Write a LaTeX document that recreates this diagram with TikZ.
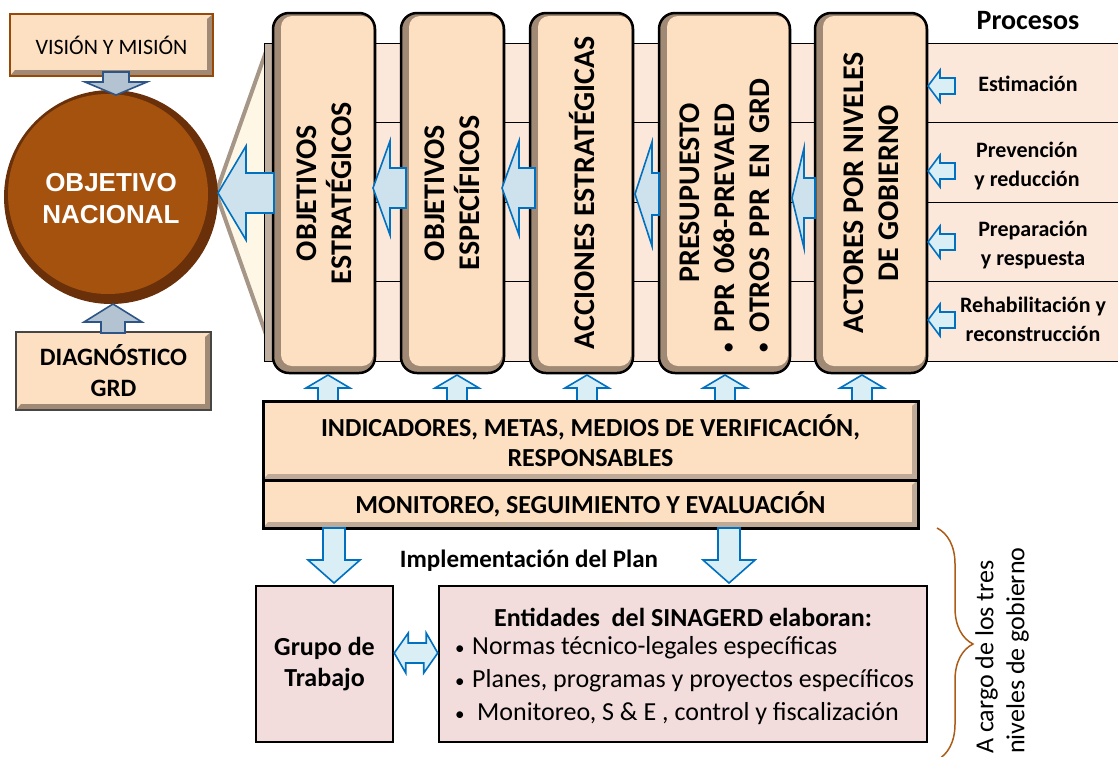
\documentclass[tikz,border=0pt]{standalone}
\usepackage{fontspec}
\setmainfont{Carlito}
\newfontfamily\arialfont{Liberation Sans}
\usetikzlibrary{positioning,calc,decorations.pathreplacing}

\definecolor{peach}{RGB}{253,224,193}
\definecolor{bevel}{RGB}{160,138,118}
\definecolor{bevellt}{RGB}{190,170,150}
\definecolor{bandc}{RGB}{252,232,219}
\definecolor{stripc}{RGB}{190,175,160}
\definecolor{fanc}{RGB}{255,247,230}
\definecolor{fanedge}{RGB}{165,150,135}
\definecolor{brownc}{RGB}{166,82,15}
\definecolor{browndk}{RGB}{105,48,10}
\definecolor{arrfill}{RGB}{218,238,246}
\definecolor{arrdeepc}{RGB}{205,226,236}
\definecolor{arrblue}{RGB}{0,112,192}
\definecolor{arrgrayc}{RGB}{180,195,210}
\definecolor{arrgraydk}{RGB}{45,85,135}
\definecolor{pinkc}{RGB}{242,221,220}
\definecolor{bracec}{RGB}{172,92,22}
\definecolor{visedge}{RGB}{152,72,7}
\definecolor{diagedge}{RGB}{70,70,70}

\newcommand\smallbul{{\fontsize{19}{19}\selectfont\textbullet}}

\tikzset{
  bevelbox/.style={fill=peach, inner sep=0pt, path picture={
      \fill[#1] (path picture bounding box.south west) -- (path picture bounding box.south east)
        -- (path picture bounding box.north east) -- ([xshift=-6pt,yshift=-5pt]path picture bounding box.north east)
        -- ([xshift=-6pt,yshift=6pt]path picture bounding box.south east)
        -- ([xshift=5pt,yshift=6pt]path picture bounding box.south west) -- cycle;}},
  bevelbox/.default=bevel,
  colbox/.style={draw=black, line width=2.5pt, rounded corners=16pt, fill=bevel, minimum height=360pt, inner sep=0pt,
    path picture={\fill[peach, rounded corners=11pt] ([xshift=8pt,yshift=7pt]path picture bounding box.south west)
        rectangle ([xshift=-2pt,yshift=-3pt]path picture bounding box.north east);}},
  coltext/.style={rotate=90, align=center, inner sep=0pt, font=\bfseries\fontsize{30}{35}\selectfont},
  proc/.style={align=center, inner sep=0pt, font=\bfseries\fontsize{22}{29}\selectfont},
  pinkbox/.style={draw=black, line width=2.5pt, fill=pinkc, inner sep=0pt},
  arrflat/.style={fill=arrfill, draw=arrblue, line width=1.6pt},
  arrdeep/.style={fill=arrdeepc, draw=arrblue, line width=1.6pt},
  arrgray/.style={fill=arrgrayc, draw=arrgraydk, line width=1.6pt},
  pics/barrow/.style args={#1/#2/#3/#4/#5}{code={
    \draw[#5] (0,0) -- (#1,-#3) -- (#1,-#4) -- (#2,-#4) -- (#2,#4) -- (#1,#4) -- (#1,#3) -- cycle;}}
}

\begin{document}
\begin{tikzpicture}[x=1pt, y=-1pt]
\useasboundingbox (0,0) rectangle (1118,756);
% band of processes
\fill[bandc] (264,43) rectangle (1118,361);
\foreach \yy in {43,122,202,281,361}
  \draw[line width=1pt] (264,\yy) -- (1118,\yy);
\filldraw[fill=fanc, draw=fanedge, line width=4pt, line join=round] (216,193) -- (268,46) -- (268,340) -- cycle;
\filldraw[fill=stripc, line width=1pt] (264,43) rectangle (273,361);

% objective
\node[circle, minimum size=214pt, fill=browndk, inner sep=0pt] (circ) at (111,197) {};
\node[circle, minimum size=200pt, fill=brownc, inner sep=0pt] (circin) at (108,194) {};
\node[text=white, align=center, font=\arialfont\bfseries\fontsize{26}{32}\selectfont] (circt) at (111,199) {OBJETIVO\\NACIONAL};
\node[bevelbox, draw=visedge, line width=2pt, minimum width=203pt, minimum height=62pt,
  font=\fontsize{22}{26}\selectfont] (vis) at (111.5,45) {VISIÓN Y MISIÓN};
\node[bevelbox, draw=diagedge, line width=1.2pt, minimum width=195pt, minimum height=78pt, align=center,
  font=\bfseries\fontsize{25}{31}\selectfont] (diag) at (113.5,371) {DIAGNÓSTICO\\GRD};

% columns
\node[colbox, minimum width=102pt] (c1) at (324,193) {};
\node[colbox, minimum width=103pt] (c2) at (452.5,193) {};
\node[colbox, minimum width=103pt] (c3) at (581.5,193) {};
\node[colbox, minimum width=131pt] (c4) at (724.5,193) {};
\node[colbox, minimum width=112pt] (c5) at (871,193) {};
\node[coltext] (c1t) at (c1) {OBJETIVOS\\ESTRATÉGICOS};
\node[coltext] (c2t) at (c2) {OBJETIVOS\\ESPECÍFICOS};
\node[coltext] (c3t) at (c3) {ACCIONES ESTRATÉGICAS};
\node[coltext, text width=318pt, align=left] (c4t) at (c4)
  {\makebox[318pt]{PRESUPUESTO}\\\smallbul\ PPR 068-PREVAED\\\smallbul\ OTROS PPR EN GRD};
\node[coltext] (c5t) at (871,193) {ACTORES POR NIVELES\\DE GOBIERNO};

% processes
\node[font=\bfseries\fontsize{28}{32}\selectfont] (proc) at (1028,21) {Procesos};
\node[proc] (p1) at (1028,84) {Estimación};
\node[proc] (p2) at (1027,166) {Prevención\\y reducción};
\node[proc] (p3) at (1033,245) {Preparación\\y respuesta};
\node[proc] (p4) at (1033,319) {Rehabilitación y\\reconstrucción};

% arrows
\pic at (218,193) {barrow=28/56/47/20/arrdeep};
\pic at (373,188) {barrow=17/33/47/20/arrdeep};
\pic at (502,188) {barrow=17/33/47/20/arrdeep};
\pic at (635,194) {barrow=17/24/52/21/arrdeep};
\pic at (792,198) {barrow=12/23/50/20/arrdeep};
\foreach \yy in {86,171,242,320}
  \pic at (928,\yy) {barrow=12/27/16/8/arrflat};
\foreach \xx in {328,457,587,725,862}
  \pic[rotate=-90] at (\xx,375) {barrow=13/26/22/10/arrflat};
\pic[rotate=90] at (116,95) {barrow=13/23/31/13/arrgray};
\pic[rotate=-90] at (113,304) {barrow=18/29/29/12/arrgray};

% indicators and monitoring
\node[bevelbox=bevellt, draw=black, line width=3pt, minimum width=655pt, minimum height=79pt, align=center,
  font=\bfseries\fontsize{26}{30}\selectfont] (ind) at (590.5,440.5) {INDICADORES, METAS, MEDIOS DE VERIFICACIÓN,\\RESPONSABLES};
\node[bevelbox=bevellt, draw=black, line width=3pt, minimum width=655pt, minimum height=48pt,
  font=\bfseries\fontsize{26}{30}\selectfont] (mon) at (590.5,504) {MONITOREO, SEGUIMIENTO Y EVALUACIÓN};

% implementation
\pic[rotate=90] at (334,583) {barrow=23/55/26/11/arrflat};
\pic[rotate=90] at (729,583) {barrow=23/55/26/11/arrflat};
\node[font=\bfseries\fontsize{25}{28}\selectfont] (impl) at (529,561) {Implementación del Plan};
\node[pinkbox, minimum width=137pt, minimum height=156pt, align=center,
  font=\bfseries\fontsize{26}{31}\selectfont] (grp) at (324.5,664) {Grupo de\\Trabajo};
\node[pinkbox, minimum width=488pt, minimum height=156pt] (ent) at (683,664) {};
\node[font=\bfseries\fontsize{26}{30}\selectfont] (entt) at (683,617) {Entidades\ \ del SINAGERD elaboran:};
\node[anchor=west, align=left, inner sep=0pt, font=\fontsize{26}{33}\selectfont] (entl) at (455,681)
  {\makebox[17pt][l]{\smallbul}Normas técnico-legales específicas\\
   \makebox[17pt][l]{\smallbul}Planes, programas y proyectos específicos\\
   \makebox[22pt][l]{\smallbul}Monitoreo, S \& E , control y fiscalización};
\path (grp.east) ++(0,-11) coordinate (dl);
\path (ent.west) ++(0,-11) coordinate (dr);
\draw[arrflat] (dl) -- ++(14,-20) -- ++(0,10) -- ++(18,0) -- ++(0,-10) -- (dr)
  -- ++(-14,20) -- ++(0,-10) -- ++(-18,0) -- ++(0,10) -- cycle;

% three levels of government
\draw[bracec, line width=1.5pt, decorate, decoration={brace, amplitude=36pt}] (937,528) -- (937,760);
\node[rotate=90, anchor=west, align=left, inner sep=0pt, font=\fontsize{26}{31}\selectfont] (cargo) at (1002,754)
  {A cargo de los tres\\niveles de gobierno};
\end{tikzpicture}
\end{document}
